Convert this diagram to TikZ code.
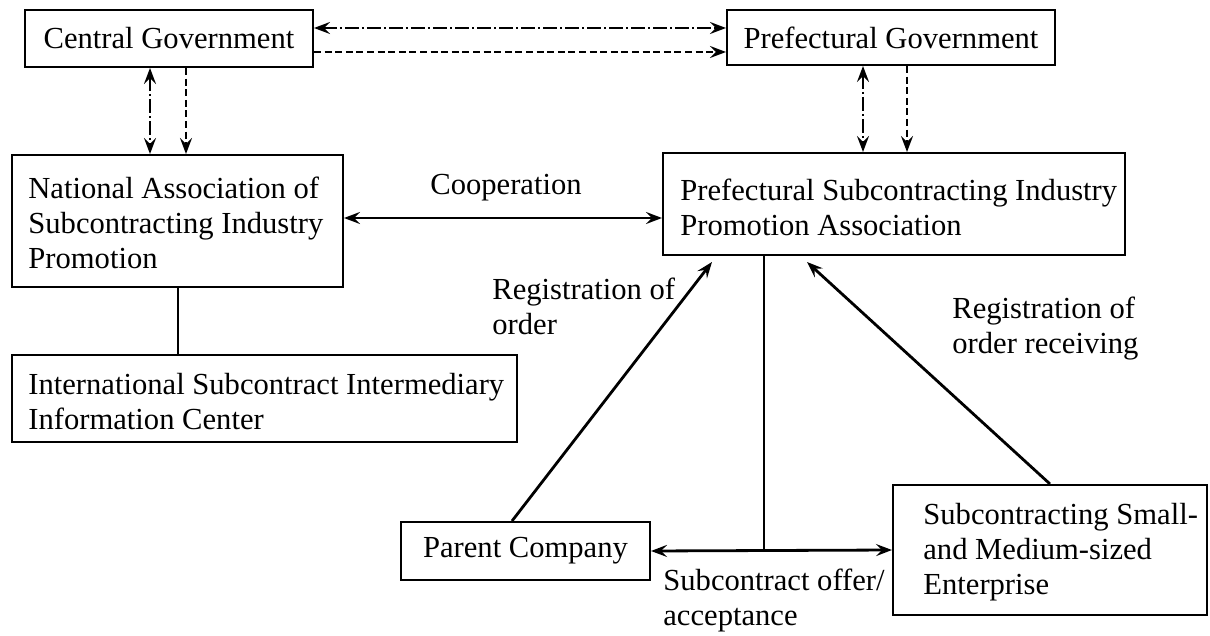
\documentclass[tikz,border=0pt]{standalone}
\usepackage{fontspec}
\setmainfont{Liberation Serif}
\usetikzlibrary{arrows.meta}
\begin{document}
\begin{tikzpicture}[x=0.5pt,y=-0.5pt,
  every node/.style={font=\fontsize{15.3pt}{17.5pt}\selectfont},
  box/.style={draw,line width=1pt,inner sep=0pt},
  txt/.style={inner sep=0pt,align=left,anchor=west},
  tip/.style={-{Stealth[length=8pt,width=6pt,inset=3pt]}},
  bitip/.style={{Stealth[length=8pt,width=6pt,inset=3pt]}-{Stealth[length=8pt,width=6pt,inset=3pt]}},
  dashdot/.style={line width=1.1pt,dash pattern=on 7pt off 1.5pt on 1pt off 1.5pt},
  dsh/.style={line width=1.1pt,dash pattern=on 3.5pt off 1.8pt},
  solid arrow/.style={line width=1.4pt}]
\useasboundingbox (0,0) rectangle (1210,636);

% boxes
\node[box,minimum width=144pt,minimum height=28.5pt] (cg) at (169,38.5) {Central Government};
\node[box,minimum width=164pt,minimum height=27.5pt] (pg) at (891,37.5) {Prefectural Government};
\node[box,minimum width=165.5pt,minimum height=66pt] (nat) at (177.5,221) {};
\node[box,minimum width=252.5pt,minimum height=43.5pt] (intl) at (264.5,398.5) {};
\node[box,minimum width=231pt,minimum height=51pt] (psipa) at (894,204) {};
\node[box,minimum width=124.5pt,minimum height=29pt] (par) at (525.5,551) {Parent Company};
\node[box,minimum width=157pt,minimum height=65pt] (sme) at (1050,550) {};

% box texts
\node[txt] (natt) at (28,222.5) {National Association of\\Subcontracting Industry\\Promotion};
\node[txt] (intlt) at (28,401.5) {International Subcontract Intermediary\\Information Center};
\node[txt] (psipat) at (680,207.5) {Prefectural Subcontracting Industry\\Promotion Association};
\node[txt] (smet) at (923,552) {Subcontracting Small-\\and Medium-sized\\Enterprise};

% labels
\node[inner sep=0pt] (coop) at (506,188) {Cooperation};
\node[txt] (reg1) at (492,306.5) {Registration of\\order};
\node[txt] (reg2) at (952,328.5) {Registration of\\order receiving};
\node[txt] (sub) at (663,600) {Subcontract offer/\\acceptance};

% helper coordinates
\coordinate (h1) at (0,28);
\coordinate (h2) at (0,52);
\coordinate (v1) at (150,0);
\coordinate (v2) at (186,0);
\coordinate (v3) at (863,0);
\coordinate (v4) at (907,0);
\coordinate (v5) at (178,0);
\coordinate (j) at (764,551);
\coordinate (a1) at (712,262);
\coordinate (a2) at (807,262);
\coordinate (c1) at (0,218);

% government links
\draw[dashdot,bitip] (cg.east |- h1) -- (pg.west |- h1);
\draw[dsh,tip] (cg.east |- h2) -- (pg.west |- h2);
\draw[dashdot,bitip] (v1 |- cg.south) -- (v1 |- nat.north);
\draw[dsh,tip] (v2 |- cg.south) -- (v2 |- nat.north);
\draw[dashdot,bitip] (v3 |- pg.south) -- (v3 |- psipa.north);
\draw[dsh,tip] (v4 |- pg.south) -- (v4 |- psipa.north);

% cooperation
\draw[solid arrow,bitip] (nat.east |- c1) -- (psipa.west |- c1);
\draw[line width=1.2pt] (v5 |- nat.south) -- (v5 |- intl.north);

% registrations
\draw[solid arrow,tip] ([xshift=-6.75pt]par.north) -- (a1);
\draw[solid arrow,tip] (sme.north) -- (a2);

% subcontract
\draw[line width=1.2pt] (j |- psipa.south) -- (j);
\draw[solid arrow,bitip] (par.east) -- (sme.west);
\end{tikzpicture}
\end{document}
